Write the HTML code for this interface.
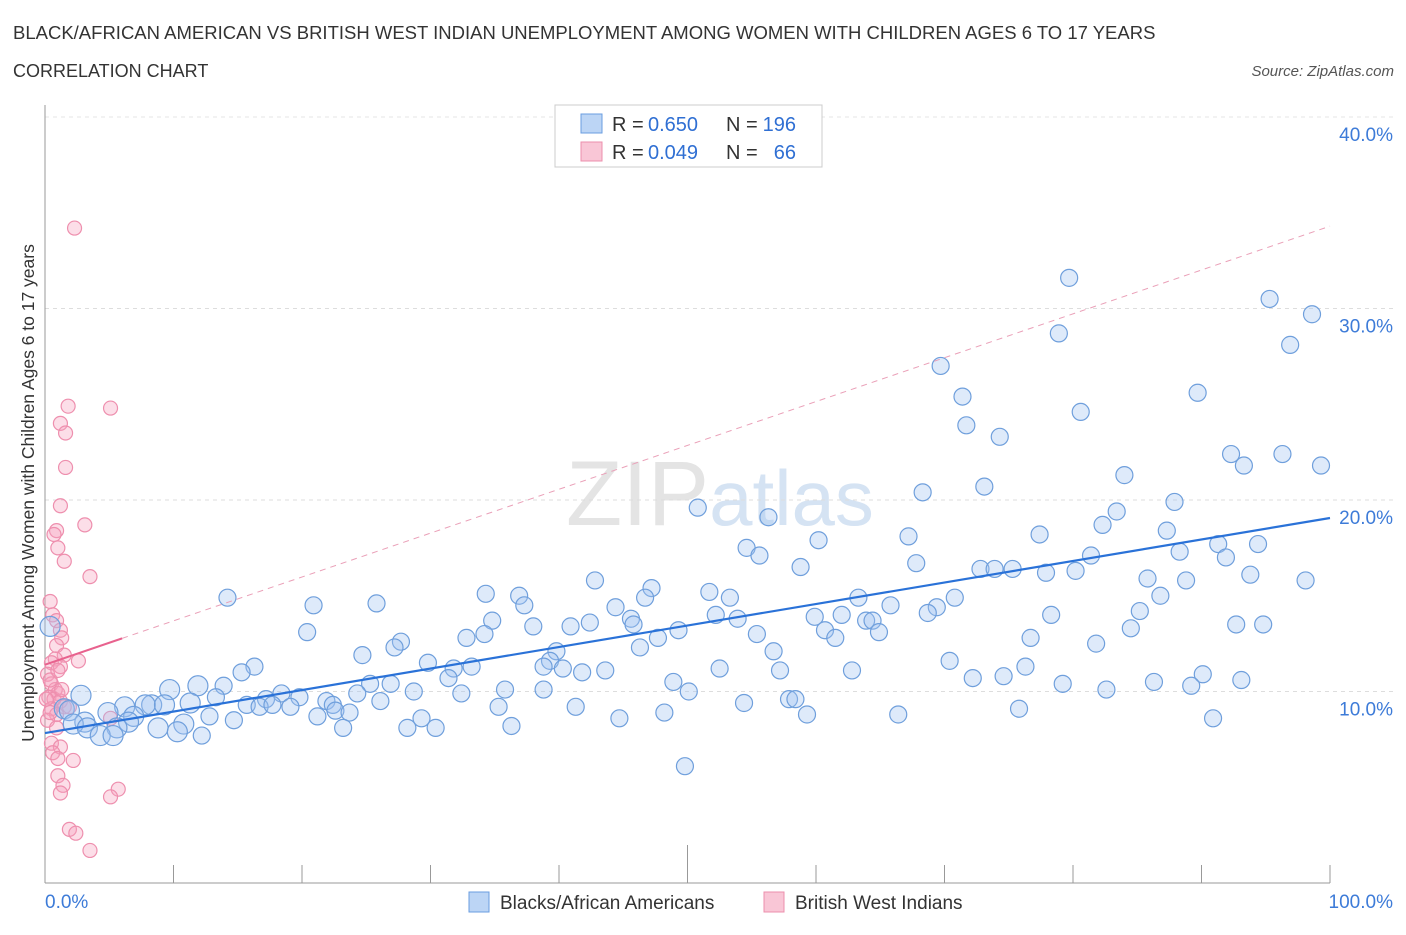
<!DOCTYPE html>
<html><head><meta charset="utf-8"><style>
body{margin:0;background:#fff;font-family:"Liberation Sans",sans-serif;}
svg text{font-family:"Liberation Sans",sans-serif;}
</style></head><body>
<svg id="chart" width="1406" height="930" viewBox="0 0 1406 930" xmlns="http://www.w3.org/2000/svg">
<text x="13" y="39" font-size="18.5" fill="#333">BLACK/AFRICAN AMERICAN VS BRITISH WEST INDIAN UNEMPLOYMENT AMONG WOMEN WITH CHILDREN AGES 6 TO 17 YEARS</text>
<text x="13" y="77" font-size="18" fill="#333">CORRELATION CHART</text>
<text x="1394" y="76" font-size="15" font-style="italic" fill="#555" text-anchor="end">Source: ZipAtlas.com</text>
<text x="720" y="525" font-size="92" fill="#e4e4e4" text-anchor="middle" font-family="Liberation Serif">ZIP<tspan fill="#d5e3f3" font-family="Liberation Sans" font-size="78">atlas</tspan></text>
<g id="grid"></g><g id="axes"></g><g id="pinkpts"></g><g id="bluepts"></g><g id="trends"></g>
<text transform="translate(34,493) rotate(-90)" font-size="17.5" fill="#333" text-anchor="middle">Unemployment Among Women with Children Ages 6 to 17 years</text>
<g>
<rect x="555" y="105" width="267" height="62" fill="#fff" stroke="#ccc"/>
<rect x="581" y="114" width="21" height="19" fill="#bcd5f5" stroke="#6a9de0"/>
<rect x="581" y="142" width="21" height="19" fill="#f9c6d6" stroke="#ec8fac"/>
<text x="612" y="131" font-size="20" fill="#333">R =</text>
<text x="648" y="131" font-size="20" fill="#2f6fd3">0.650</text>
<text x="726" y="131" font-size="20" fill="#333">N =</text>
<text x="796" y="131" font-size="20" fill="#2f6fd3" text-anchor="end">196</text>
<text x="612" y="159" font-size="20" fill="#333">R =</text>
<text x="648" y="159" font-size="20" fill="#2f6fd3">0.049</text>
<text x="726" y="159" font-size="20" fill="#333">N =</text>
<text x="796" y="159" font-size="20" fill="#2f6fd3" text-anchor="end">66</text>
</g>
<g>
<rect x="469" y="892" width="20" height="20" fill="#bcd5f5" stroke="#6a9de0"/>
<text x="500" y="909" font-size="19" fill="#333">Blacks/African Americans</text>
<rect x="764" y="892" width="20" height="20" fill="#f9c6d6" stroke="#ec8fac"/>
<text x="795" y="909" font-size="19" fill="#333">British West Indians</text>
</g>
</svg>
<script>
const yTicks=[10,20,30,40];
const xTickLabels=["0.0%","100.0%"];
const blueX=[79.7,95.3,98.6,96.9,78.9,69.7,89.7,71.4,80.6,71.7,74.3,92.3,96.3,93.3,99.3,84.0,73.1,68.3,87.9,50.8,83.4,56.3,82.3,87.3,67.2,77.4,60.2,54.6,91.3,94.4,55.6,88.3,81.4,91.9,58.8,67.8,72.8,73.9,75.3,77.9,80.2,85.8,88.8,93.8,98.1,42.8,47.2,51.7,46.7,53.3,34.3,36.9,63.3,70.8,86.8,14.2,25.8,37.3,20.9,44.4,65.8,69.4,85.2,52.2,78.3,59.9,53.9,45.6,68.7,62.0,63.9,64.4,34.8,38.0,40.9,42.4,45.8,60.7,49.3,55.4,64.9,84.5,92.7,94.8,20.4,34.2,32.8,47.7,61.5,76.7,27.7,27.2,46.3,81.8,39.8,56.7,24.7,39.3,70.4,29.8,33.2,38.8,16.3,15.3,31.8,76.3,52.5,40.3,43.6,57.2,41.8,62.8,31.4,72.2,74.6,86.3,90.1,48.9,79.2,89.2,11.9,13.9,9.7,25.3,26.9,2.8,13.3,18.4,19.8,17.2,24.3,35.8,28.7,32.4,38.8,50.1,82.6,93.1,8.3,6.2,7.8,9.3,11.3,15.7,16.7,17.7,19.1,21.9,22.4,26.1,22.6,35.3,41.3,54.4,57.9,58.4,1.5,1.9,4.9,6.9,12.8,21.2,23.7,29.3,48.2,59.3,66.4,75.8,90.9,44.7,14.7,3.1,2.2,6.5,10.8,5.6,8.8,23.2,28.2,36.3,3.3,30.4,10.3,4.3,5.3,12.2,0.4,49.8];
const blueY=[31.6,30.5,29.7,28.1,28.7,27.0,25.6,25.4,24.6,23.9,23.3,22.4,22.4,21.8,21.8,21.3,20.7,20.4,19.9,19.6,19.4,19.1,18.7,18.4,18.1,18.2,17.9,17.5,17.7,17.7,17.1,17.3,17.1,17.0,16.5,16.7,16.4,16.4,16.4,16.2,16.3,15.9,15.8,16.1,15.8,15.8,15.4,15.2,14.9,14.9,15.1,15.0,14.9,14.9,15.0,14.9,14.6,14.5,14.5,14.4,14.5,14.4,14.2,14.0,14.0,13.9,13.8,13.8,14.1,14.0,13.7,13.7,13.7,13.4,13.4,13.6,13.5,13.2,13.2,13.0,13.1,13.3,13.5,13.5,13.1,13.0,12.8,12.8,12.8,12.8,12.6,12.3,12.3,12.5,12.1,12.1,11.9,11.6,11.6,11.5,11.3,11.3,11.3,11.0,11.2,11.3,11.2,11.2,11.1,11.1,11.0,11.1,10.7,10.7,10.8,10.5,10.9,10.5,10.4,10.3,10.3,10.3,10.1,10.4,10.4,9.8,9.7,9.9,9.7,9.6,9.9,10.1,10.0,9.9,10.1,10.0,10.1,10.6,9.3,9.2,9.3,9.3,9.4,9.3,9.2,9.3,9.2,9.5,9.3,9.5,9.0,9.2,9.2,9.4,9.6,9.6,9.1,9.0,8.9,8.7,8.7,8.7,8.9,8.6,8.9,8.8,8.8,9.1,8.6,8.6,8.5,8.4,8.3,8.4,8.3,8.1,8.1,8.1,8.1,8.2,8.1,8.1,7.9,7.7,7.7,7.7,13.4,6.1];
const pinkX=[2.3,1.8,5.1,1.2,1.6,1.6,1.2,3.1,0.9,0.7,1.0,1.5,3.5,0.4,0.6,0.9,1.2,1.3,0.9,1.5,2.6,0.8,0.5,1.2,0.2,0.5,0.8,1.0,0.3,0.7,1.2,1.5,0.5,0.9,1.9,0.2,5.1,0.9,0.5,1.2,0.6,1.0,2.2,1.0,1.4,5.7,1.2,5.1,1.9,2.4,3.5,0.4,1.3,0.1,0.4,1.0];
const pinkY=[34.2,24.9,24.8,24.0,23.5,21.7,19.7,18.7,18.4,18.2,17.5,16.8,16.0,14.7,14.0,13.7,13.2,12.8,12.4,11.9,11.6,11.7,11.5,11.3,10.9,10.4,10.1,9.9,9.7,9.6,9.5,9.2,9.1,8.8,9.2,8.5,8.6,8.1,7.3,7.1,6.8,6.5,6.4,5.6,5.1,4.9,4.7,4.5,2.8,2.6,1.7,10.6,10.1,9.6,8.9,11.1];
const blueTrend=[7.83,19.06];
const pinkTrend=[11.4,34.3];
const NS="http://www.w3.org/2000/svg";
const X0=45,X1=1330,Y0=883,PY=19.15;
const sx=v=>X0+(X1-X0)*v/100, sy=v=>Y0-v*PY;
function mk(tag,attrs,parent){const e=document.createElementNS(NS,tag);for(const k in attrs)e.setAttribute(k,attrs[k]);document.getElementById(parent).appendChild(e);return e;}
yTicks.forEach(t=>{
 const l=mk('line',{x1:X0,x2:1395,y1:sy(t),y2:sy(t),stroke:'#ddd','stroke-dasharray':'4,4'},'grid');
 
 
 const tx=mk('text',{x:1393,y:sy(t)+24,'font-size':19,fill:'#3d7bd8','text-anchor':'end'},'grid');tx.textContent=t.toFixed(1)+'%';
 
 
});
const topGrid=mk('line',{x1:X0,x2:1395,y1:117,y2:117,stroke:'#e6e6e6','stroke-dasharray':'4,4'},'grid');


const ya=mk('line',{x1:X0,x2:X0,y1:105,y2:Y0,stroke:'#999'},'axes');


const xa=mk('line',{x1:X0,x2:X1,y1:Y0,y2:Y0,stroke:'#999'},'axes');


for(let i=0;i<=10;i++){const t=mk('line',{x1:sx(i*10),x2:sx(i*10),y1:i==5?845:865,y2:Y0,stroke:'#999'},'axes');
 
 }
[[0,'start'],[100,'end']].forEach((p,i)=>{const t=mk('text',{x:i?1393:45,y:908,'font-size':19,fill:'#3d7bd8','text-anchor':p[1]},'axes');t.textContent=xTickLabels[i];
 
 });
pinkX.forEach((x,i)=>{const c=mk('circle',{cx:sx(x),cy:sy(pinkY[i]),r:7,fill:'rgba(245,160,190,0.35)',stroke:'#ee8fae','stroke-width':1.2},'pinkpts');
 
 });
blueX.forEach((x,i)=>{const c=mk('circle',{cx:sx(x),cy:sy(blueY[i]),r:x<12?10:8.5,fill:'rgba(160,195,240,0.35)',stroke:'#6f9fdc','stroke-width':1.2},'bluepts');
 
 });
const pEnd=pinkTrend[0]+(pinkTrend[1]-pinkTrend[0])*0.06;
const pd=mk('line',{x1:sx(6),y1:sy(pEnd),x2:sx(100),y2:sy(pinkTrend[1]),stroke:'#eaa0b8','stroke-width':1,'stroke-dasharray':'6,5'},'trends');


const ps=mk('line',{x1:sx(0),y1:sy(pinkTrend[0]),x2:sx(6),y2:sy(pEnd),stroke:'#e8628e','stroke-width':2},'trends');


const bl=mk('line',{x1:sx(0),y1:sy(blueTrend[0]),x2:sx(100),y2:sy(blueTrend[1]),stroke:'#2a72d8','stroke-width':2.2},'trends');


</script>
</body></html>
